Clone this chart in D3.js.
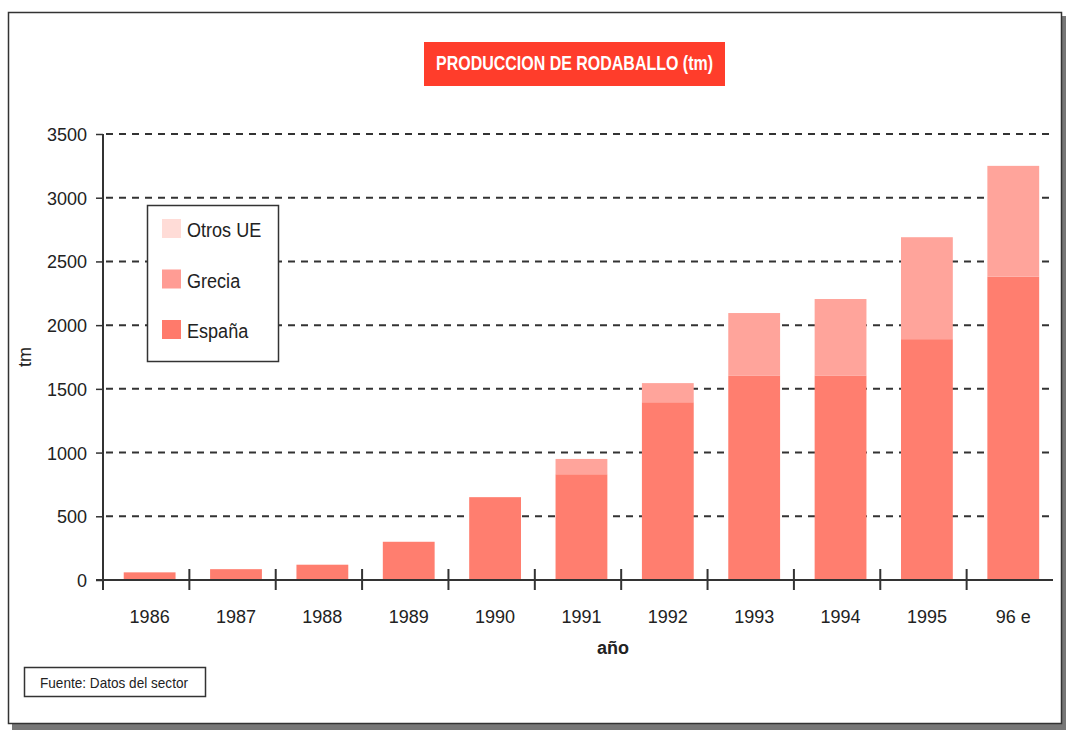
<!DOCTYPE html>
<html>
<head>
<meta charset="utf-8">
<script src="https://cdn.jsdelivr.net/npm/d3@7"></script>
<style>
  html, body { margin: 0; padding: 0; background: #ffffff; }
  svg { display: block; }
  text { font-family: "Liberation Sans", Arial, Helvetica, sans-serif; fill: #222; }
</style>
</head>
<body>
<svg id="chart" width="1066" height="730"></svg>
<script>
// ---- Data ----
const categories = ["1986", "1987", "1988", "1989", "1990", "1991", "1992", "1993", "1994", "1995", "96 e"];
const espana   = [60, 85, 120, 300, 650, 830, 1395, 1605, 1605, 1890, 2380];
const grecia   = [0, 0, 0, 0, 0, 120, 150, 490, 600, 800, 870];
const otrosUE  = [0, 0, 0, 0, 0, 0, 0, 0, 0, 0, 0];
const seriesNames = ["España", "Grecia", "Otros UE"];
const yTicks = [0, 500, 1000, 1500, 2000, 2500, 3000, 3500];
const titleText = "PRODUCCION DE RODABALLO (tm)";
const yLabel = "tm";
const xLabel = "año";
const sourceText = "Fuente: Datos del sector";

// ---- Setup ----
const svg = d3.select("#chart");
const colors = { "España": "#ff7e6f", "Grecia": "#ffa49b", "Otros UE": "#ffd9d4" };
const legendColors = { "España": "#ff7a6b", "Grecia": "#ff9c94", "Otros UE": "#ffdcd7" };

const table = categories.map((c, i) => ({ cat: c, "España": espana[i], "Grecia": grecia[i], "Otros UE": otrosUE[i] }));
const stacked = d3.stack().keys(seriesNames)(table);

const x = d3.scaleBand().domain(categories).range([103, 1053]).paddingInner(0.4).paddingOuter(0.2).align(0.6);
const y = d3.scaleLinear().domain([0, 3500]).range([580, 134]);

// Frame with shadow
svg.append("rect").attr("x", 12).attr("y", 16).attr("width", 1054).attr("height", 714).attr("fill", "#777");
svg.append("rect").attr("x", 8.5).attr("y", 12.5).attr("width", 1053).attr("height", 711)
  .attr("fill", "#fff").attr("stroke", "#333").attr("stroke-width", 1.5);

// Title box
svg.append("rect").attr("x", 424).attr("y", 42).attr("width", 301).attr("height", 44).attr("fill", "#ff3d2b");
svg.append("text").attr("x", 574.5).attr("y", 70).attr("text-anchor", "middle")
  .attr("font-size", 20).attr("font-weight", "bold").style("fill", "#fff")
  .attr("textLength", 277).attr("lengthAdjust", "spacingAndGlyphs").text(titleText);

// Gridlines (dashed)
svg.append("g").selectAll("line").data(yTicks.filter(d => d > 0)).join("line")
  .attr("x1", 106).attr("x2", 1053).attr("y1", d => y(d)).attr("y2", d => y(d))
  .attr("stroke", "#333").attr("stroke-width", 2).attr("stroke-dasharray", "7,6");

// Bars
svg.append("g").selectAll("g").data(stacked).join("g")
  .attr("fill", d => colors[d.key])
  .selectAll("rect").data(d => d).join("rect")
  .attr("x", d => x(d.data.cat)).attr("width", x.bandwidth())
  .attr("y", d => y(d[1])).attr("height", d => Math.max(0, y(d[0]) - y(d[1])));

// Y axis
const yAxis = d3.axisLeft(y).tickValues(yTicks).tickFormat(d3.format("d")).tickSize(7).tickPadding(9);
const gy = svg.append("g").attr("transform", "translate(103,0)").call(yAxis);
gy.select(".domain").remove();
gy.selectAll(".tick line").attr("stroke", "#333").attr("stroke-width", 1.5);
gy.selectAll(".tick text").attr("font-size", 18).attr("dy", "0.36em")
  .style("font-family", "'Liberation Sans', Arial, sans-serif").style("fill", "#222");
svg.append("line").attr("x1", 103).attr("x2", 103).attr("y1", 134).attr("y2", 590)
  .attr("stroke", "#333").attr("stroke-width", 2);

// X axis line
svg.append("line").attr("x1", 96).attr("x2", 1053).attr("y1", 580).attr("y2", 580)
  .attr("stroke", "#333").attr("stroke-width", 2);
// Boundary ticks (between categories)
const step = x.step();
svg.append("g").selectAll("line").data(categories.slice(1)).join("line")
  .attr("x1", (d, i) => 103 + (i + 1) * (950 / categories.length))
  .attr("x2", (d, i) => 103 + (i + 1) * (950 / categories.length))
  .attr("y1", 569).attr("y2", 590).attr("stroke", "#333").attr("stroke-width", 2);
// Category labels
svg.append("g").selectAll("text").data(categories).join("text")
  .attr("x", d => x(d) + x.bandwidth() / 2).attr("y", 623)
  .attr("text-anchor", "middle").attr("font-size", 18).text(d => d);

// Axis titles
svg.append("text").attr("transform", "translate(31,357) rotate(-90)").attr("text-anchor", "middle")
  .attr("font-size", 18).text(yLabel);
svg.append("text").attr("x", 613).attr("y", 654).attr("text-anchor", "middle")
  .attr("font-size", 18).attr("font-weight", "bold").text(xLabel);

// Legend
const legendOrder = ["Otros UE", "Grecia", "España"];
svg.append("rect").attr("x", 147.5).attr("y", 205.5).attr("width", 131).attr("height", 156)
  .attr("fill", "#fff").attr("stroke", "#333").attr("stroke-width", 1.5);
const lg = svg.append("g").selectAll("g").data(legendOrder).join("g")
  .attr("transform", (d, i) => `translate(162,${219 + i * 50.5})`);
lg.append("rect").attr("width", 19).attr("height", 19).attr("fill", d => legendColors[d]);
lg.append("text").attr("transform", "translate(25,18) scale(0.86,1)").attr("font-size", 21).text(d => d);

// Source box
svg.append("rect").attr("x", 24.5).attr("y", 667.5).attr("width", 181).attr("height", 29)
  .attr("fill", "#fff").attr("stroke", "#333").attr("stroke-width", 1.5);
svg.append("text").attr("x", 40).attr("y", 688).attr("font-size", 15)
  .attr("textLength", 148).attr("lengthAdjust", "spacingAndGlyphs").text(sourceText);
</script>
</body>
</html>
